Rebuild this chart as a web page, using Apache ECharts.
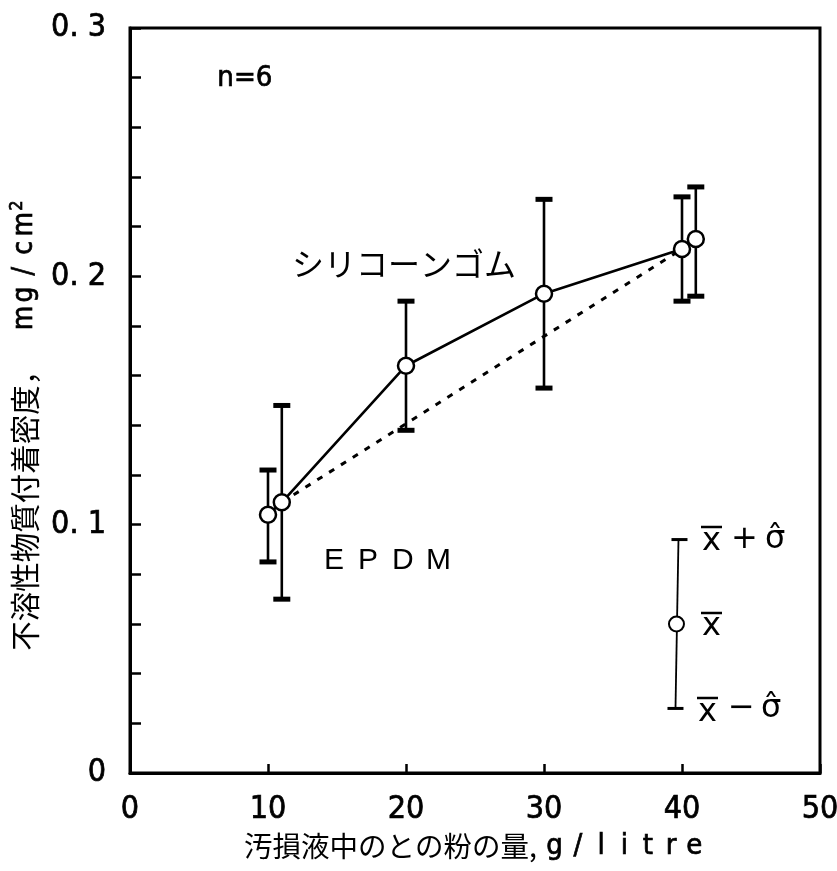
<!DOCTYPE html>
<html>
<head>
<meta charset="utf-8">
<script src="https://cdn.jsdelivr.net/npm/echarts@6/dist/echarts.min.js"></script>
<style>
html,body{margin:0;padding:0;background:#fff;}
#c{width:837px;height:871px;}
</style>
</head>
<body>
<div id="c"></div>
<script>
// ---- data ----
const xVals     = [10, 11, 20, 30, 40, 41];
const meanVals  = [0.104, 0.109, 0.164, 0.193, 0.211, 0.215];
const upperVals = [0.122, 0.148, 0.190, 0.231, 0.232, 0.236];
const lowerVals = [0.085, 0.070, 0.138, 0.155, 0.190, 0.192];
// dashed (EPDM) straight line
const dashedX = [11, 40];
const dashedY = [0.109, 0.211];
// legend key (x̄ ± σ̂)
const keyX = [39.6];
const keyLow = [0.026];
const keyMean = [0.060];
const keyHigh = [0.094];
// axis tick labels
const xTickLabels = {0:'0', 10:'10', 20:'20', 30:'30', 40:'40', 50:'50'};
const yTickLabels = ['0', '0. 1', '0. 2', '0. 3'];

const NARROW = '"Liberation Sans Narrow","DejaVu Sans Condensed","Liberation Sans",sans-serif';
const CJK = '"Noto Sans CJK JP","Noto Sans CJK SC",sans-serif';

const chart = echarts.init(document.getElementById('c'));

const solidData = xVals.map((x, i) => [x, meanVals[i]]);
const errData = xVals.map((x, i) => [x, lowerVals[i], upperVals[i]]);
const dashData = dashedX.map((x, i) => [x, dashedY[i]]);
const keyData = keyX.map((x, i) => [x, keyLow[i], keyHigh[i], keyMean[i]]);

function errRender(params, api) {
  const x = api.value(0), lo = api.value(1), hi = api.value(2);
  const pLo = api.coord([x, lo]);
  const pHi = api.coord([x, hi]);
  const w = 17, h = 5;
  return {
    type: 'group',
    children: [
      {type: 'line', shape: {x1: pLo[0], y1: pLo[1], x2: pHi[0], y2: pHi[1]}, style: {stroke: '#000', lineWidth: 2.6}},
      {type: 'rect', shape: {x: pHi[0] - w / 2, y: pHi[1] - h / 2, width: w, height: h}, style: {fill: '#000'}},
      {type: 'rect', shape: {x: pLo[0] - w / 2, y: pLo[1] - h / 2, width: w, height: h}, style: {fill: '#000'}}
    ]
  };
}

function keyRender(params, api) {
  const x = api.value(0), lo = api.value(1), hi = api.value(2), m = api.value(3);
  const pLo = api.coord([x, lo]);
  const pHi = api.coord([x, hi]);
  const pM = api.coord([x, m]);
  const w = 16;
  return {
    type: 'group',
    children: [
      {type: 'line', shape: {x1: pLo[0] - 1, y1: pLo[1], x2: pHi[0] + 2, y2: pHi[1]}, style: {stroke: '#000', lineWidth: 1.8}},
      {type: 'line', shape: {x1: pHi[0] - w / 2 + 3, y1: pHi[1], x2: pHi[0] + w / 2 + 3, y2: pHi[1]}, style: {stroke: '#000', lineWidth: 3}},
      {type: 'line', shape: {x1: pLo[0] - w / 2 - 1, y1: pLo[1], x2: pLo[0] + w / 2 - 1, y2: pLo[1]}, style: {stroke: '#000', lineWidth: 3}},
      {type: 'circle', shape: {cx: pM[0], cy: pM[1], r: 7.5}, style: {fill: '#fff', stroke: '#000', lineWidth: 2}}
    ]
  };
}

const legendFont = '"DejaVu Sans","Liberation Sans",sans-serif';
const BOLDISH = {textBorderColor: '#000', textBorderWidth: 0.7};

const graphics = [
  {type: 'text', left: 217, top: 64, style: {text: 'n=6', font: '29px ' + NARROW, fill: '#000', stroke: '#000', lineWidth: 0.7}},
  {type: 'text', left: 292, top: 248, style: {text: 'シリコーンゴム', font: '32px ' + CJK, fill: '#000'}},
  {type: 'text', left: 324, top: 546, style: {
    text: '{e|E}{e|P}{e|D}{e|M}',
    rich: {e: {fontFamily: '"Liberation Sans",sans-serif', fontSize: 30, width: 34, align: 'left', color: '#000'}}
  }},
  // legend row 1 : x̄ + σ̂
  {type: 'text', left: 702, top: 526, style: {text: 'x', font: '32px ' + legendFont, fill: '#000'}},
  {type: 'line', shape: {x1: 701, y1: 527, x2: 722, y2: 527}, style: {stroke: '#000', lineWidth: 2.5}},
  {type: 'text', left: 731, top: 524, style: {text: '+', font: '32px ' + legendFont, fill: '#000'}},
  {type: 'text', left: 765, top: 524, style: {text: 'σ̂', font: '32px ' + legendFont, fill: '#000'}},
  // legend row 2 : x̄
  {type: 'text', left: 702, top: 611, style: {text: 'x', font: '32px ' + legendFont, fill: '#000'}},
  {type: 'line', shape: {x1: 701, y1: 613, x2: 722, y2: 613}, style: {stroke: '#000', lineWidth: 2.5}},
  // legend row 3 : x̄ − σ̂
  {type: 'text', left: 698, top: 697, style: {text: 'x', font: '32px ' + legendFont, fill: '#000'}},
  {type: 'line', shape: {x1: 697, y1: 698, x2: 718, y2: 698}, style: {stroke: '#000', lineWidth: 2.5}},
  {type: 'text', left: 728, top: 693, style: {text: '−', font: '32px ' + legendFont, fill: '#000'}},
  {type: 'text', left: 761, top: 693, style: {text: 'σ̂', font: '32px ' + legendFont, fill: '#000'}}
];

const monoX = 'g/litre'.split('').map(c => '{m|' + c + '}').join('');
const monoY = 'mg/cm'.split('').map(c => '{m|' + c + '}').join('');

const option = {
  backgroundColor: '#fff',
  animation: false,
  grid: {left: 130, top: 28, right: 17, bottom: 98, show: true, borderColor: '#000', borderWidth: 3,
         backgroundColor: 'transparent', containLabel: false, outerBoundsMode: 'none'},
  xAxis: {
    type: 'value', min: 0, max: 50, interval: 10,
    name: '{cjk|汚損液中のとの粉の量,}{sp| }' + monoX,
    nameLocation: 'middle', nameGap: 55,
    nameTextStyle: {
      rich: {
        cjk: {fontFamily: CJK, fontSize: 28.5, color: '#000'},
        sp: {width: 6},
        m: Object.assign({fontFamily: NARROW, fontSize: 29, color: '#000', width: 23.3, align: 'center'}, BOLDISH)
      }
    },
    axisLine: {lineStyle: {color: '#000', width: 3}},
    axisTick: {inside: true, length: 9, lineStyle: {color: '#000', width: 2.5}},
    splitLine: {show: false},
    axisLabel: Object.assign({margin: 21, color: '#000', fontFamily: NARROW, fontSize: 32, formatter: v => xTickLabels[v]}, BOLDISH)
  },
  yAxis: {
    type: 'value', min: 0, max: 0.3, interval: 0.1,
    name: '{cjk|不溶性物質付着密度，}{sp| }' + monoY + '{sup|2}{pad| }',
    nameLocation: 'middle', nameGap: 82, nameRotate: 90,
    nameTextStyle: {
      rich: {
        cjk: {fontFamily: CJK, fontSize: 29.5, color: '#000'},
        sp: {width: 26},
        m: Object.assign({fontFamily: NARROW, fontSize: 28, color: '#000', width: 23.4, align: 'center'}, BOLDISH),
        sup: Object.assign({fontFamily: NARROW, fontSize: 18, color: '#000', verticalAlign: 'top', padding: [0, 0, 16, 2]}, BOLDISH),
        pad: {width: 50}
      }
    },
    axisLine: {lineStyle: {color: '#000', width: 3}},
    axisTick: {inside: true, length: 11, lineStyle: {color: '#000', width: 2.5}},
    minorTick: {show: true, splitNumber: 5, length: 11, lineStyle: {color: '#000', width: 2.5}},
    splitLine: {show: false},
    minorSplitLine: {show: false},
    axisLabel: Object.assign({margin: 24, color: '#000', fontFamily: NARROW, fontSize: 32,
      formatter: v => yTickLabels[Math.round(v * 10)]}, BOLDISH)
  },
  graphic: graphics,
  series: [
    {
      type: 'line', data: dashData, showSymbol: false, symbol: 'none', z: 2,
      lineStyle: {color: '#000', width: 3, type: [6, 8]}
    },
    {
      type: 'custom', data: errData, renderItem: errRender, z: 3,
      encode: {x: 0, y: [1, 2]}
    },
    {
      type: 'line', data: solidData, z: 4,
      symbol: 'circle', symbolSize: 16, showSymbol: true,
      itemStyle: {color: '#fff', borderColor: '#000', borderWidth: 2.5},
      lineStyle: {color: '#000', width: 2.6}
    },
    {
      type: 'custom', data: keyData, renderItem: keyRender, z: 4,
      encode: {x: 0, y: [1, 2, 3]}
    }
  ]
};
chart.setOption(option);
</script>
</body>
</html>
